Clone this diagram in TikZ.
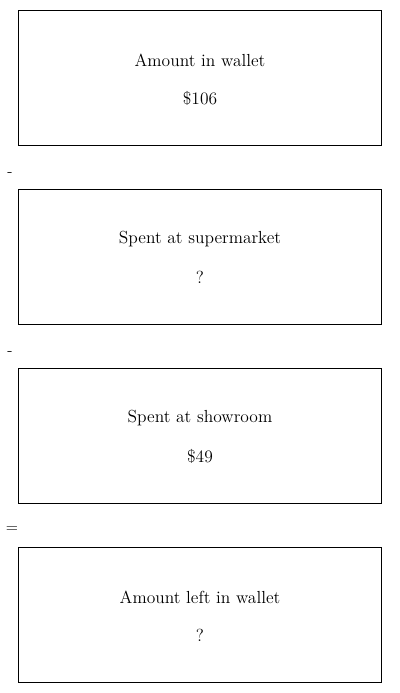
\documentclass[tikz,border=0pt]{standalone}
\begin{document}
\begin{tikzpicture}[x=0.75pt,y=-0.75pt,
  valbox/.style={draw,line width=0.6pt,minimum width=272.25pt,minimum height=101.25pt,inner sep=0pt},
  boxtext/.style={font=\fontsize{13.1}{16}\selectfont,inner sep=0pt},
  optext/.style={font=\fontsize{12}{14}\selectfont,inner sep=0pt}]
  \useasboundingbox (0,0) rectangle (400,693);

  % Amount in wallet
  \node [valbox] (wallet) at (199.5,77.5) {};
  \node [boxtext] (walletname) at (200,60) {Amount in wallet};
  \node [boxtext] (walletval) at (200,98) {\$106};

  % minus sign
  \node [optext] (minusa) at (10,175) {-};

  % Spent at supermarket
  \node [valbox] (market) at (199.5,256.5) {};
  \node [boxtext] (marketname) at (200,239) {Spent at supermarket};
  \node [boxtext] (marketval) at (200,277) {?};

  % minus sign
  \node [optext] (minusb) at (10,354) {-};

  % Spent at showroom
  \node [valbox] (showroom) at (199.5,435.5) {};
  \node [boxtext] (showroomname) at (200,418) {Spent at showroom};
  \node [boxtext] (showroomval) at (200,456) {\$49};

  % equals sign
  \node [optext] (equals) at (12,530) {=};

  % Amount left in wallet
  \node [valbox] (left) at (199.5,614.5) {};
  \node [boxtext] (leftname) at (200,597) {Amount left in wallet};
  \node [boxtext] (leftval) at (200,635) {?};
\end{tikzpicture}
\end{document}
